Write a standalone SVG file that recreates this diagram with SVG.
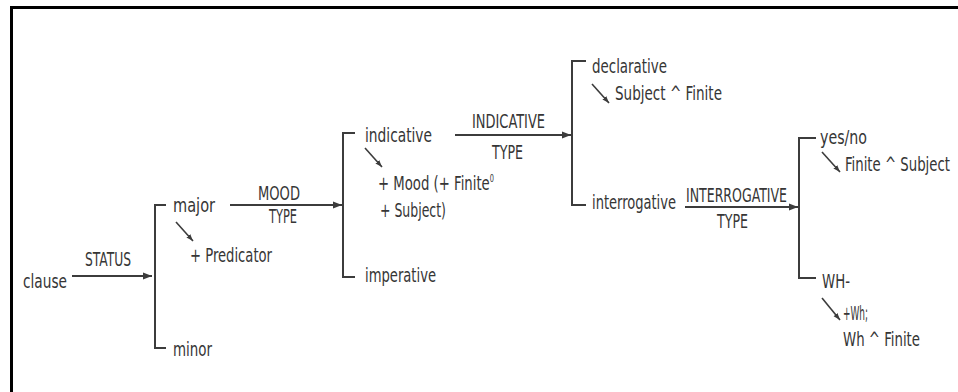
<svg xmlns="http://www.w3.org/2000/svg" width="958" height="392" viewBox="0 0 958 392">
<style>
text{font-family:"Liberation Sans Narrow","DejaVu Sans Condensed","Liberation Sans",sans-serif;font-size:20px;fill:#363636}
.ln{stroke:#3c3c3c;stroke-width:2;fill:none}
.ar{stroke:#3c3c3c;stroke-width:2;fill:none;marker-end:url(#ah)}
.dg{stroke:#3c3c3c;stroke-width:1.6;fill:none;marker-end:url(#ah2)}
</style>
<defs>
<marker id="ah" markerUnits="userSpaceOnUse" markerWidth="10" markerHeight="8" refX="9" refY="4" orient="auto"><path d="M0,0.5 L9,4 L0,7.5 Z" fill="#3c3c3c"/></marker>
<marker id="ah2" markerUnits="userSpaceOnUse" markerWidth="8" markerHeight="6" refX="7" refY="3" orient="auto"><path d="M0,0.5 L7,3 L0,5.5 Z" fill="#3c3c3c"/></marker>
</defs>
<rect width="958" height="392" fill="#fff"/>
<g id="frame">
<line x1="10" y1="7.5" x2="958" y2="7.5" stroke="#000" stroke-width="3"/>
<line x1="11.5" y1="6" x2="11.5" y2="392" stroke="#000" stroke-width="3"/>
</g>
<g id="connectors">
<line class="ar" x1="72" y1="276" x2="152" y2="276"/>
<line class="ar" x1="230" y1="205" x2="342" y2="205"/>
<line class="ar" x1="455" y1="135" x2="571" y2="135"/>
<line class="ar" x1="685" y1="207" x2="798" y2="207"/>
<path class="ln" d="M166,205 H155 V348 H166"/>
<path class="ln" d="M355,133 H343 V277 H355"/>
<path class="ln" d="M586,61 H572 V205 H586"/>
<path class="ln" d="M816,138 H799 V278 H816"/>
<line class="dg" x1="176" y1="222" x2="193" y2="241"/>
<line class="dg" x1="365" y1="148" x2="382" y2="167"/>
<line class="dg" x1="592" y1="84" x2="609" y2="103"/>
<line class="dg" x1="822" y1="152" x2="840" y2="172"/>
<line class="dg" x1="822" y1="298" x2="840" y2="320"/>
</g>
<g id="clause"><text x="23" y="288" textLength="44" lengthAdjust="spacingAndGlyphs">clause</text></g>
<g id="status"><text x="85" y="266" textLength="46" lengthAdjust="spacingAndGlyphs">STATUS</text></g>
<g id="major">
<text x="173" y="212" textLength="42" lengthAdjust="spacingAndGlyphs">major</text>
<text x="190" y="262" textLength="82" lengthAdjust="spacingAndGlyphs">+ Predicator</text>
</g>
<g id="minor"><text x="173" y="356" textLength="39" lengthAdjust="spacingAndGlyphs">minor</text></g>
<g id="moodtype">
<text x="258" y="200" textLength="42" lengthAdjust="spacingAndGlyphs">MOOD</text>
<text x="269" y="223" textLength="28" lengthAdjust="spacingAndGlyphs">TYPE</text>
</g>
<g id="indicative">
<text x="365" y="142" textLength="67" lengthAdjust="spacingAndGlyphs">indicative</text>
<text x="378" y="190" textLength="116" lengthAdjust="spacingAndGlyphs">+ Mood (+ Finite<tspan dy="-8" style="font-size:10px">0</tspan></text>
<text x="380" y="217" textLength="66" lengthAdjust="spacingAndGlyphs">+ Subject)</text>
</g>
<g id="imperative"><text x="365" y="282" textLength="71" lengthAdjust="spacingAndGlyphs">imperative</text></g>
<g id="indicativetype">
<text x="472" y="128" textLength="73" lengthAdjust="spacingAndGlyphs">INDICATIVE</text>
<text x="492" y="159" textLength="31" lengthAdjust="spacingAndGlyphs">TYPE</text>
</g>
<g id="declarative">
<text x="592" y="73" textLength="75" lengthAdjust="spacingAndGlyphs">declarative</text>
<text x="615" y="100" textLength="107" lengthAdjust="spacingAndGlyphs">Subject ^ Finite</text>
</g>
<g id="interrogative"><text x="592" y="209" textLength="84" lengthAdjust="spacingAndGlyphs">interrogative</text></g>
<g id="interrogativetype">
<text x="686" y="202" textLength="101" lengthAdjust="spacingAndGlyphs">INTERROGATIVE</text>
<text x="717" y="228" textLength="31" lengthAdjust="spacingAndGlyphs">TYPE</text>
</g>
<g id="yesno">
<text x="820" y="144" textLength="47" lengthAdjust="spacingAndGlyphs">yes/no</text>
<text x="845" y="171" textLength="105" lengthAdjust="spacingAndGlyphs">Finite ^ Subject</text>
</g>
<g id="wh">
<text x="822" y="288" textLength="28" lengthAdjust="spacingAndGlyphs">WH-</text>
<text x="843" y="320" textLength="25" lengthAdjust="spacingAndGlyphs">+Wh;</text>
<text x="843" y="346" textLength="77" lengthAdjust="spacingAndGlyphs">Wh ^ Finite</text>
</g>
</svg>
